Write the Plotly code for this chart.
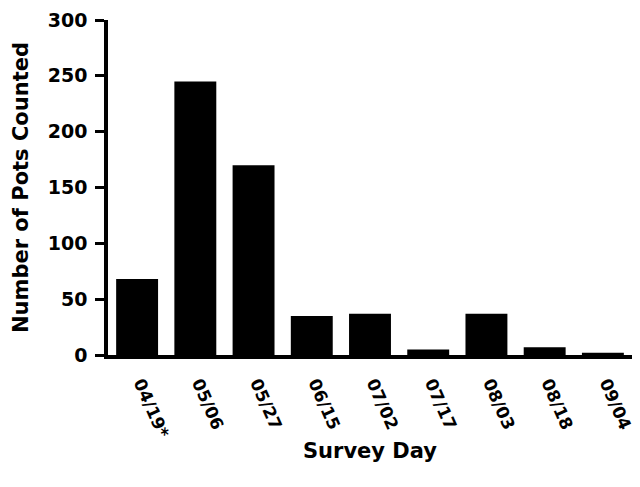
import plotly.graph_objects as go

survey_days = ["04/19*", "05/06", "05/27", "06/15", "07/02", "07/17", "08/03", "08/18", "09/04"]
pots_counted = [68, 245, 170, 35, 37, 5, 37, 7, 2]
y_ticks = [0, 50, 100, 150, 200, 250, 300]

FONT = "DejaVu Sans, Arial, sans-serif"
ytick_font = dict(family=FONT, size=19, weight="bold", color="black")
xtick_font = dict(family=FONT, size=17, weight="bold", color="black")
title_font = dict(family=FONT, size=21, weight="bold", color="black")

fig = go.Figure(go.Bar(x=survey_days, y=pots_counted, marker=dict(color="black", line=dict(width=0))))

# page body has an 8px default margin, so the figure is sized to fill the rest of the window
fig.update_layout(
    width=632, height=479,
    margin=dict(l=100, r=8, t=12, b=132),
    plot_bgcolor="white", paper_bgcolor="white",
    bargap=0.28,
    showlegend=False,
    font=dict(family=FONT, color="black"),
)
fig.update_xaxes(
    type="category", automargin=False,
    showline=True, linewidth=3.5, linecolor="black",
    ticks="", tickangle=66,
    ticklabelstandoff=8, ticklabelshift=4,
    tickfont=xtick_font,
    title=dict(text="Survey Day", font=title_font, standoff=4),
    showgrid=False, zeroline=False,
)
fig.update_yaxes(
    range=[0, 300], tickvals=y_ticks, automargin=False,
    showline=True, linewidth=3.5, linecolor="black",
    ticks="outside", ticklen=9, tickwidth=3, tickcolor="black",
    ticklabelstandoff=4,
    tickfont=ytick_font,
    title=dict(text="Number of Pots Counted", font=title_font, standoff=14),
    showgrid=False, zeroline=False,
)

fig.write_html("out.html")
